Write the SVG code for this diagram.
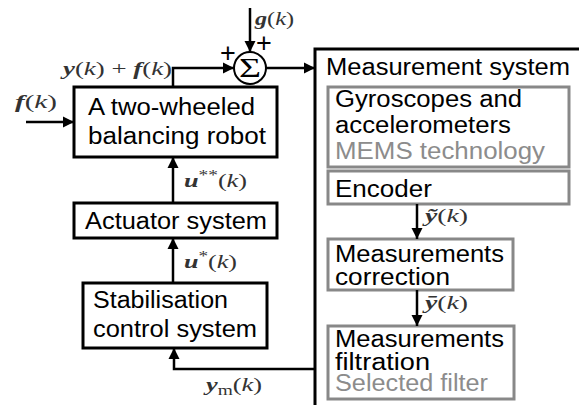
<svg xmlns="http://www.w3.org/2000/svg" width="579" height="405" viewBox="0 0 579 405">
<defs>
<marker id="arr" markerUnits="userSpaceOnUse" markerWidth="12" markerHeight="12" refX="11" refY="6" orient="auto">
<path d="M0,0.5 L11,6 L0,11.5 Z" fill="#000"/>
</marker>
<style>
.blk{fill:#fff;stroke:#000;stroke-width:3}
.gry{fill:#fff;stroke:#888;stroke-width:3}
.t{font-family:"Liberation Sans",Arial,sans-serif;font-size:23px;fill:#000}
.tg{font-family:"Liberation Sans",Arial,sans-serif;font-size:23px;fill:#8c8c8c}
.m{font-family:"Liberation Serif","Times New Roman",serif;font-size:19px;fill:#333}
.v{font-weight:bold;font-style:italic}
.i{font-style:italic}
.c{fill:none;stroke:#000;stroke-width:2.5}
.p{font-family:"Liberation Sans",Arial,sans-serif;font-size:27px;fill:#000}
</style>
</defs>
<rect width="579" height="405" fill="#fff"/>

<g id="measurement-system">
<rect class="blk" x="315" y="49" width="300" height="400"/>
<text class="t" x="326" y="75" textLength="244" lengthAdjust="spacingAndGlyphs">Measurement system</text>
</g>

<g id="gyroscopes">
<rect class="gry" x="328" y="87" width="241" height="80"/>
<text class="t" x="335" y="107" textLength="187" lengthAdjust="spacingAndGlyphs">Gyroscopes and</text>
<text class="t" x="335" y="133" textLength="176" lengthAdjust="spacingAndGlyphs">accelerometers</text>
<text class="tg" x="335" y="159" textLength="210" lengthAdjust="spacingAndGlyphs">MEMS technology</text>
</g>

<g id="encoder">
<rect class="gry" x="328" y="171" width="241" height="33"/>
<text class="t" x="335" y="197" textLength="97" lengthAdjust="spacingAndGlyphs">Encoder</text>
</g>

<g id="correction">
<rect class="gry" x="328" y="239" width="185" height="51"/>
<text class="t" x="335" y="262" textLength="169" lengthAdjust="spacingAndGlyphs">Measurements</text>
<text class="t" x="335" y="285" textLength="115" lengthAdjust="spacingAndGlyphs">correction</text>
</g>

<g id="filtration">
<rect class="gry" x="328" y="326" width="186" height="73"/>
<text class="t" x="335" y="347" textLength="169" lengthAdjust="spacingAndGlyphs">Measurements</text>
<text class="t" x="335" y="370" textLength="95" lengthAdjust="spacingAndGlyphs">filtration</text>
<text class="tg" x="335" y="391" textLength="153" lengthAdjust="spacingAndGlyphs">Selected filter</text>
</g>

<g id="robot">
<rect class="blk" x="74" y="87" width="203" height="70"/>
<text class="t" x="88" y="115" textLength="167" lengthAdjust="spacingAndGlyphs">A two-wheeled</text>
<text class="t" x="88" y="144" textLength="178" lengthAdjust="spacingAndGlyphs">balancing robot</text>
</g>

<g id="actuator">
<rect class="blk" x="74" y="203" width="203" height="35"/>
<text class="t" x="85" y="229" textLength="182" lengthAdjust="spacingAndGlyphs">Actuator system</text>
</g>

<g id="stabilisation">
<rect class="blk" x="83" y="283" width="184" height="65"/>
<text class="t" x="93" y="308" textLength="135" lengthAdjust="spacingAndGlyphs">Stabilisation</text>
<text class="t" x="93" y="337" textLength="164" lengthAdjust="spacingAndGlyphs">control system</text>
</g>

<g id="sum">
<circle cx="250" cy="68" r="16" fill="#fff" stroke="#000" stroke-width="2"/>
<text x="250" y="77" text-anchor="middle" font-family="'Liberation Serif','Times New Roman',serif" font-size="27" textLength="22" lengthAdjust="spacingAndGlyphs">Σ</text>
<text class="p" x="228" y="62" text-anchor="middle">+</text>
<text class="p" x="264" y="52" text-anchor="middle">+</text>
</g>

<g id="connectors">
<path class="c" d="M173,87 V68 H234" marker-end="url(#arr)"/>
<path class="c" d="M250,8 V52" marker-end="url(#arr)"/>
<path class="c" d="M266,68 H315" marker-end="url(#arr)"/>
<path class="c" d="M26,122 H74" marker-end="url(#arr)"/>
<path class="c" d="M173,203 V157" marker-end="url(#arr)"/>
<path class="c" d="M173,283 V238" marker-end="url(#arr)"/>
<path class="c" d="M315,369 H174 V348" marker-end="url(#arr)"/>
<path class="c" d="M417,204 V239" marker-end="url(#arr)"/>
<path class="c" d="M417,290 V326" marker-end="url(#arr)"/>
</g>

<g id="labels">
<text class="m" x="255" y="25" textLength="39" lengthAdjust="spacingAndGlyphs"><tspan class="v">g</tspan>(<tspan class="i">k</tspan>)</text>
<text class="m" x="63" y="75" textLength="109" lengthAdjust="spacingAndGlyphs"><tspan class="v">y</tspan>(<tspan class="i">k</tspan>) + <tspan class="v">f</tspan>(<tspan class="i">k</tspan>)</text>
<text class="m" x="15" y="108" textLength="42" lengthAdjust="spacingAndGlyphs"><tspan class="v">f</tspan>(<tspan class="i">k</tspan>)</text>
<text class="m" x="184" y="187" textLength="63" lengthAdjust="spacingAndGlyphs"><tspan class="v">u</tspan><tspan font-size="14" dy="-7">**</tspan><tspan dy="7">(</tspan><tspan class="i">k</tspan>)</text>
<text class="m" x="184" y="268" textLength="53" lengthAdjust="spacingAndGlyphs"><tspan class="v">u</tspan><tspan font-size="14" dy="-7">*</tspan><tspan dy="7">(</tspan><tspan class="i">k</tspan>)</text>
<text class="m" x="425" y="222" textLength="43" lengthAdjust="spacingAndGlyphs"><tspan class="v">ỹ</tspan>(<tspan class="i">k</tspan>)</text>
<text class="m" x="425" y="309" textLength="43" lengthAdjust="spacingAndGlyphs"><tspan class="v">ȳ</tspan>(<tspan class="i">k</tspan>)</text>
<text class="m" x="206" y="391" textLength="56" lengthAdjust="spacingAndGlyphs"><tspan class="v">y</tspan><tspan font-size="14" dy="4">m</tspan><tspan dy="-4">(</tspan><tspan class="i">k</tspan>)</text>
</g>
</svg>
